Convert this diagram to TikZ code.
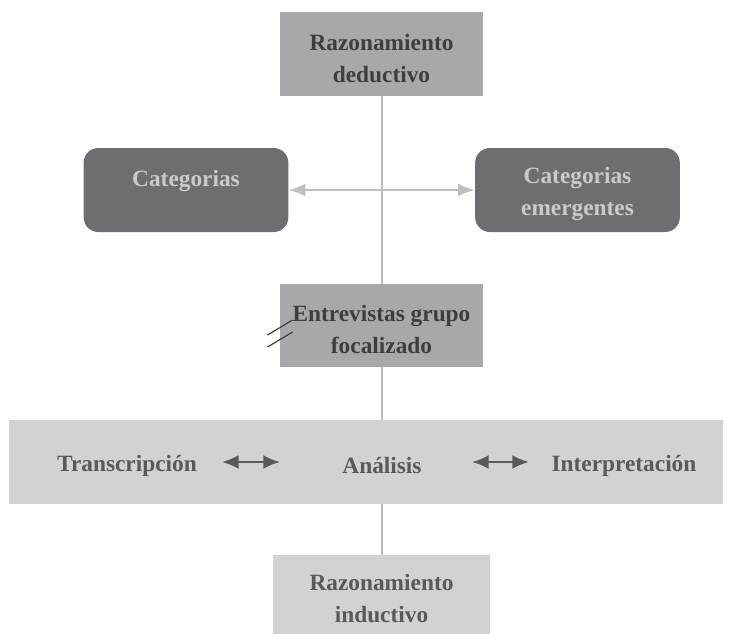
\documentclass[tikz,border=0pt]{standalone}
\usepackage{fontspec}
\setmainfont{Liberation Serif}
\usetikzlibrary{arrows.meta}
\definecolor{boxmid}{HTML}{A7A8AB}
\definecolor{boxdark}{HTML}{6D6E72}
\definecolor{boxlight}{HTML}{D1D2D4}
\definecolor{txtdark}{HTML}{3E3E40}
\definecolor{txtmid}{HTML}{58595B}
\definecolor{txtlight}{HTML}{C9CACC}
\definecolor{linegray}{HTML}{BEBFC1}
\newcommand{\topgap}{\rule{0pt}{18.5pt}}

\begin{document}
\begin{tikzpicture}[
  x=0.75pt,y=-0.75pt,
  every node/.style={font=\fontsize{17.5}{24}\selectfont\bfseries,align=center,inner sep=0pt},
  midbox/.style={fill=boxmid,text=txtdark,minimum width=152.25pt,minimum height=63pt},
  catbox/.style={fill=boxdark,text=txtlight,rounded corners=11pt,minimum width=153.5pt,minimum height=63pt},
  lightbox/.style={fill=boxlight,text=txtmid},
  stem/.style={linegray,line width=1.5pt},
  lightarrow/.style={{Latex[length=12.5pt,width=9.5pt]}-{Latex[length=12.5pt,width=9.5pt]},linegray,line width=1.5pt},
  darkarrow/.style={{Latex[length=12.5pt,width=10.5pt]}-{Latex[length=12.5pt,width=10.5pt]},txtmid,line width=1.8pt},
  slash/.style={txtdark,line width=0.9pt}
]
  \useasboundingbox (0,0) rectangle (732,635);
  % boxes
  \node[midbox] (deduct) at (381.5,54) {\topgap Razonamiento\\deductivo};
  \node[catbox] (cat) at (186,190) {\topgap Categorias\\\mbox{}};
  \node[catbox] (emer) at (577.5,190) {\topgap Categorias\\emergentes};
  \node[midbox,minimum height=62.25pt] (entrev) at (381.5,325.5) {\topgap Entrevistas grupo\\focalizado};
  \node[lightbox,minimum width=535.5pt,minimum height=63pt] (band) at (366,462) {};
  \node[lightbox,minimum width=162.75pt,minimum height=59.25pt] (induct) at (381.5,594.5) {\topgap Razonamiento\\inductivo};
  % texts in the band
  \node[text=txtmid] (trans) at (127,466) {Transcripción};
  \node[text=txtmid] (anal) at (382,466) {Análisis};
  \node[text=txtmid] (interp) at (624,466) {Interpretación};
  % connectors
  \draw[stem] (deduct) -- (entrev);
  \draw[stem] (entrev.south) -- (entrev.south |- band.north);
  \draw[stem] (induct.north |- band.south) -- (induct.north);
  \draw[lightarrow] (cat.east) -- (emer.west);
  \coordinate (l1) at (222,462);
  \coordinate (r1) at (280,462);
  \coordinate (l2) at (472,462);
  \coordinate (r2) at (529,462);
  \draw[darkarrow] (l1) -- (r1);
  \draw[darkarrow] (l2) -- (r2);
  % break marks
  \draw[slash] (267.5,335) -- (292.5,320);
  \draw[slash] (267.5,347) -- (292.5,332);
\end{tikzpicture}
\end{document}
